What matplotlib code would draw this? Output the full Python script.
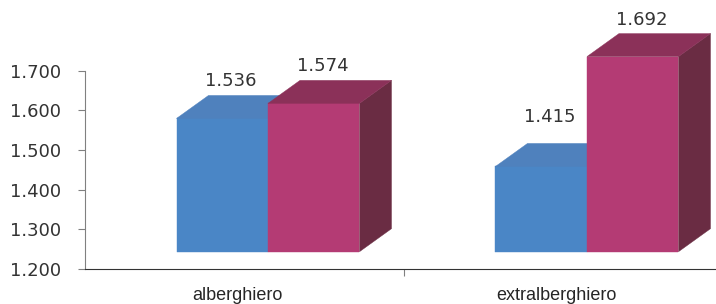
import matplotlib
matplotlib.use("Agg")
import matplotlib.pyplot as plt
from matplotlib.patches import Polygon
import numpy as np

categories = ["alberghiero", "extralberghiero"]
series_a = [1.536, 1.415]   # blue
series_b = [1.574, 1.692]   # magenta
labels_a = ["1.536", "1.415"]
labels_b = ["1.574", "1.692"]
yticks = [1.2, 1.3, 1.4, 1.5, 1.6, 1.7]
ytick_labels = ["1.200", "1.300", "1.400", "1.500", "1.600", "1.700"]

W, H = 716, 304
fig = plt.figure(figsize=(W / 100, H / 100), dpi=100)
ax = fig.add_axes([85 / W, (H - 269) / H, (W - 85) / W, (269 - 70.7) / H])
ax.set_xlim(-0.5, -0.5 + (W - 85) / 319)
ax.set_ylim(1.2, 1.7)

# 3D offsets in pixels
OX, OY = 23.5, 17.3      # front face shift
DX, DY = 32.0, 23.0      # depth
bw = 91.5 / 319

inv = ax.transData.inverted()


def P(x, y, px, py):
    d = ax.transData.transform((x, y))
    return inv.transform((d[0] + px, d[1] + py))


def box(x0, x1, v, c_front, c_top, c_side):
    base = 1.2
    f = [P(x0, base, OX, OY), P(x1, base, OX, OY), P(x1, v, OX, OY), P(x0, v, OX, OY)]
    t = [P(x0, v, OX, OY), P(x1, v, OX, OY), P(x1, v, OX + DX, OY + DY), P(x0, v, OX + DX, OY + DY)]
    s = [P(x1, base, OX, OY), P(x1, base, OX + DX, OY + DY), P(x1, v, OX + DX, OY + DY), P(x1, v, OX, OY)]
    for pts, c in ((s, c_side), (f, c_front), (t, c_top)):
        ax.add_patch(Polygon(pts, closed=True, facecolor=c, edgecolor=c, lw=0.3, clip_on=False))


def label(xc, v, txt, extra=0.0):
    p = P(xc, v, OX + 9, OY + DY + 5 + extra)
    ax.text(p[0], p[1], txt, ha="center", va="bottom", fontsize=13,
            family="DejaVu Sans", color="#333333", clip_on=False)


xs = np.arange(len(categories))
for i, c in enumerate(xs):
    box(c - bw, c, series_a[i], "#4A86C6", "#4F81BD", "#3A6494")
    box(c, c + bw, series_b[i], "#B43B74", "#8B3159", "#6A2C43")
    # the reference places the lower blue label of the second group a bit higher
    label(c - bw / 2, series_a[i], labels_a[i], extra=(12 if i == 1 else 0))
    label(c + bw / 2, series_b[i], labels_b[i])

for sp in ("top", "right"):
    ax.spines[sp].set_visible(False)
ax.spines["left"].set_color("#808080")
ax.spines["bottom"].set_color("#333333")

ax.set_yticks(yticks)
ax.set_yticklabels(ytick_labels, fontsize=13, family="DejaVu Sans", color="#333333")
ax.tick_params(axis="y", direction="out", length=5, color="#808080", pad=12)

ax.set_xticks([0.5])
ax.set_xticklabels([""])
ax.tick_params(axis="x", direction="out", length=5, color="#808080")

for i, c in enumerate(xs):
    p = P(c, 1.2, -7, -26)
    ax.text(p[0], p[1], categories[i], ha="center", va="center", fontsize=13,
            family="Liberation Sans", color="#262626", clip_on=False)

fig.savefig("out.png", dpi=100)
